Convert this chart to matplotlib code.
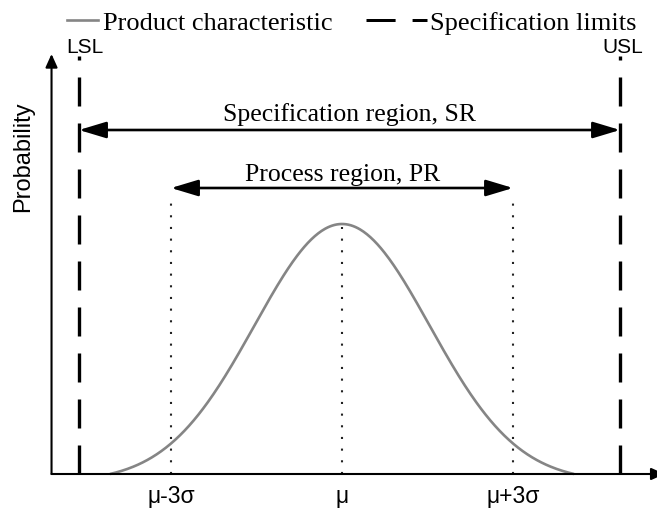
import numpy as np
import matplotlib.pyplot as plt
from matplotlib.lines import Line2D

# ---- data (x in units of sigma, mu = 0; y normalised to peak = 1) ----
mu = 0.0
lsl = -4.614
usl = 4.877
tick_positions = [-3.0, 0.0, 3.0]
tick_labels = ["μ-3σ", "μ", "μ+3σ"]
curve_sigma = 1.535          # drawn bell width
curve_half_width = 4.07      # curve drawn from mu-4.07 to mu+4.07
peak_height = 1.0
sr_level = 1.376
pr_level = 1.144
pr_dot_top = 1.12
legend_labels = ["Product characteristic", "Specification limits"]

fig = plt.figure(figsize=(6.57, 5.10), dpi=100)
ax = fig.add_axes([0, 0, 1, 1])
ax.set_xlim(-6.0, 5.526)
ax.set_ylim(-0.14, 1.9)
ax.axis("off")

serif = "Liberation Serif"
sans = "Liberation Sans"

# bell curve (truncated gaussian, shifted so the ends touch the axis)
x = np.linspace(mu - curve_half_width, mu + curve_half_width, 400)
g = np.exp(-0.5 * ((x - mu) / curve_sigma) ** 2)
g_end = np.exp(-0.5 * (curve_half_width / curve_sigma) ** 2)
y = peak_height * (g - g_end) / (1 - g_end)
ax.plot(x, y, color="#858585", lw=1.9, zorder=3, solid_capstyle="butt")

# axes with arrows
y_axis_x = -5.096
ax.annotate("", xy=(5.66, 0), xytext=(y_axis_x, 0), annotation_clip=False,
            arrowprops=dict(arrowstyle="-|>,head_length=0.8,head_width=0.36",
                            color="black", lw=1.5, mutation_scale=10,
                            shrinkA=0, shrinkB=0))
ax.annotate("", xy=(y_axis_x, 1.68), xytext=(y_axis_x, 0), annotation_clip=False,
            arrowprops=dict(arrowstyle="-|>,head_length=0.8,head_width=0.36",
                            color="black", lw=1.5, mutation_scale=10,
                            shrinkA=0, shrinkB=0))
ax.text(-5.596, 1.272, "Probability", rotation=90, ha="center", va="center",
        fontsize=17, family=sans)

# spec limits (dashed)
for v in (lsl, usl):
    ax.plot([v, v], [0, 1.672], color="black", lw=2.4, dashes=(8.7, 5.1),
            zorder=2, solid_capstyle="butt", dash_capstyle="butt")
ax.text(-4.51, 1.688, "LSL", ha="center", va="baseline", fontsize=15, family=sans)
ax.text(4.93, 1.688, "USL", ha="center", va="baseline", fontsize=15, family=sans)

# dotted lines
for v in tick_positions:
    top = 0.988 if v == mu else pr_dot_top
    ax.plot([v, v], [0, top], color="#222222", lw=1.5, ls=(0, (1, 4.6)), zorder=2)

# tick labels
for v, lab in zip(tick_positions, tick_labels):
    ax.text(v, -0.114, lab, ha="center", va="baseline", fontsize=16.5, family=sans)

# region arrows
arrow_style = "<|-|>,head_length=1.66,head_width=0.5"
ax.annotate("", xy=(usl, sr_level), xytext=(lsl, sr_level),
            arrowprops=dict(arrowstyle=arrow_style, color="black", lw=1.9,
                            mutation_scale=10, shrinkA=0, shrinkB=0))
ax.text(0.14, 1.416, "Specification region, SR", ha="center",
        va="baseline", fontsize=18.5, family=serif)
ax.annotate("", xy=(3.0, pr_level), xytext=(-3.0, pr_level),
            arrowprops=dict(arrowstyle=arrow_style, color="black", lw=1.9,
                            mutation_scale=10, shrinkA=0, shrinkB=0))
ax.text(0.018, 1.176, "Process region, PR", ha="center", va="baseline",
        fontsize=18.5, family=serif)

# legend (two pieces so each handle can have its own length)
leg1 = fig.legend([Line2D([], [], color="#858585", lw=1.9)], [legend_labels[0]],
                  loc="center left", bbox_to_anchor=(67 / 657, 1 - 23 / 510),
                  frameon=False, handlelength=1.17, handletextpad=0.19,
                  borderpad=0, borderaxespad=0,
                  prop=dict(family=serif, size=19))
leg2 = fig.legend([Line2D([], [], color="black", lw=2.16, dashes=(9.7, 5.66),
                          dash_capstyle="butt")],
                  [legend_labels[1]],
                  loc="center left", bbox_to_anchor=(366 / 657, 1 - 23 / 510),
                  frameon=False, handlelength=2.31, handletextpad=0.11,
                  borderpad=0, borderaxespad=0,
                  prop=dict(family=serif, size=19))

fig.savefig("out.png", dpi=100)
